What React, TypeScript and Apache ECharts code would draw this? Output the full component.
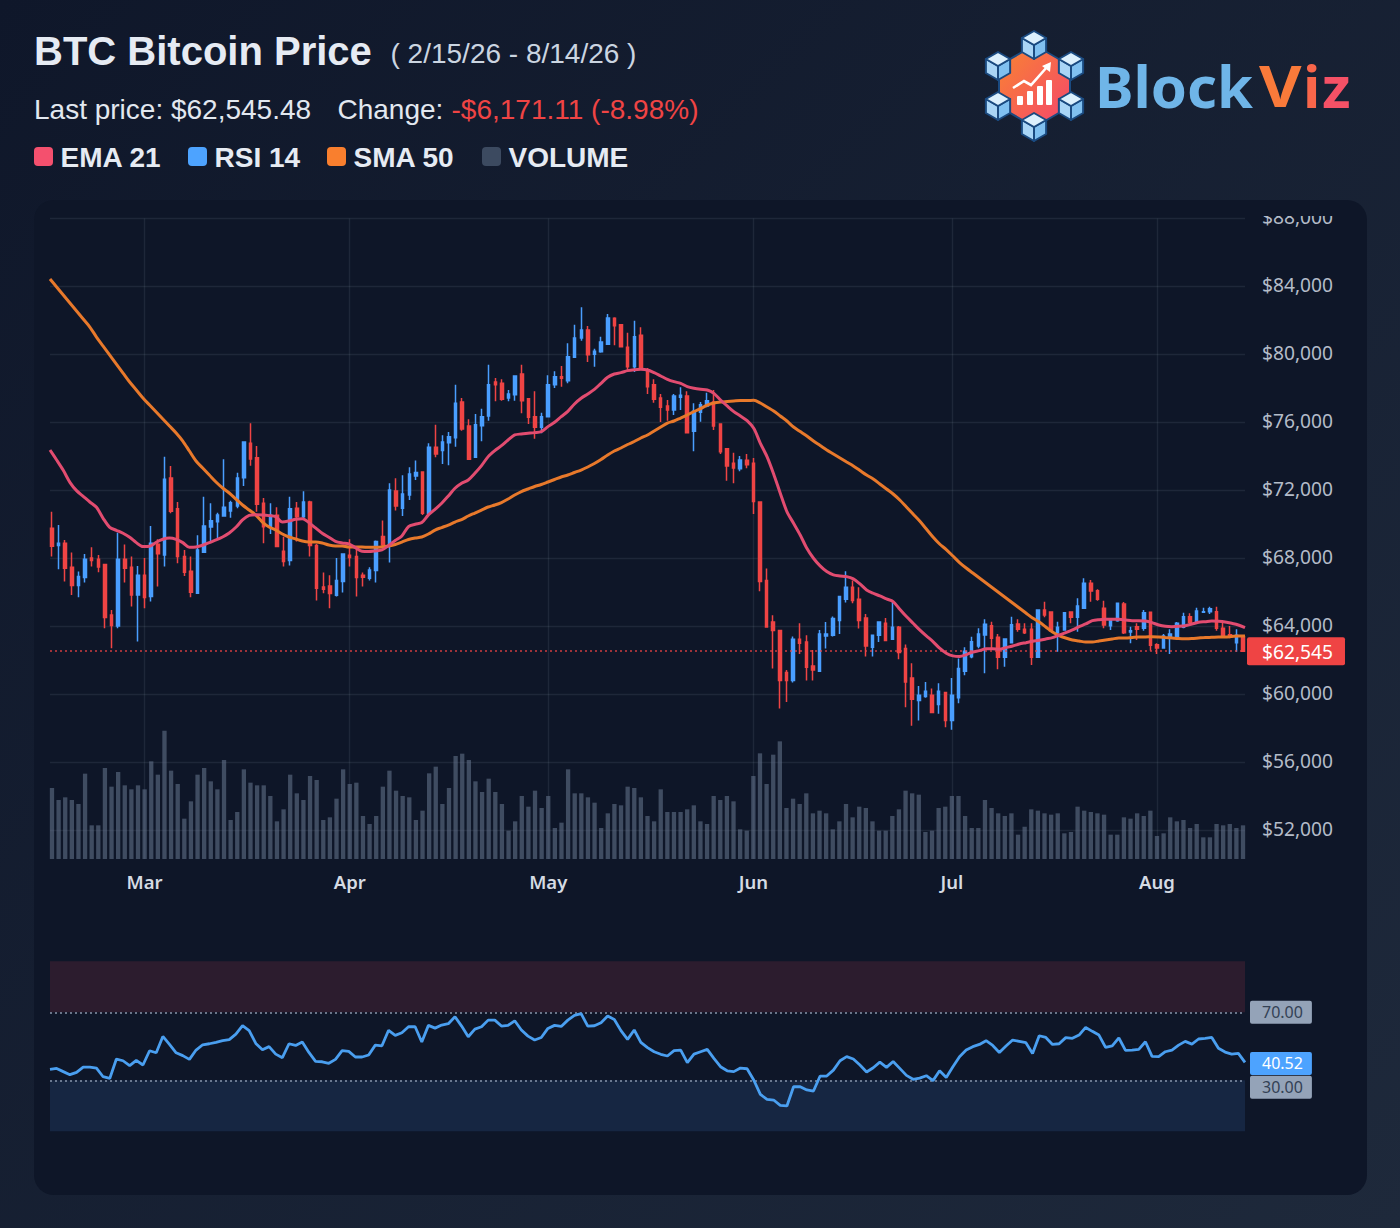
import React, { useEffect, useRef } from "react";
import * as echarts from "echarts";

const opens = [
  69777,68758,68895,67484,66406,66876,68033,67954,67641,64681,
  64034,67954,67484,65857,67013,65759,68836,68209,72737,70933,
  68111,67249,65955,68366,69855,70169,70502,70796,71090,72756,
  74775,73932,71247,69836,70541,68425,67876,70953,70463,71325,
  68758,66327,66386,65837,66641,68189,68111,67015,66839,67290,
  69289,68799,71974,70955,71739,72856,73091,70661,74542,74346,
  74816,75110,77207,75796,73954,75816,76384,78383,78305,77443,
  77639,78854,77403,76345,75718,76345,78227,78697,78462,79834,
  80971,81441,80010,80167,80598,82127,81755,80422,79285,81127,
  79089,78227,77443,76972,76736,77481,77559,75482,76599,76971,
  77206,75913,74462,73600,73286,73776,73600,71326,66701,64270,
  63761,61291,60821,63251,63094,61683,61370,63447,63486,64349,
  65603,66309,65603,64506,62781,63486,64192,63251,63957,62702,
  60978,59645,59880,59958,59410,60115,58469,59802,61370,62227,
  62854,63501,64050,63364,62188,63050,64148,63834,63834,62188,
  64971,64853,63638,63795,64853,64540,65069,66539,66108,65069,
  64050,64344,65324,63677,63991,63893,64834,62933,62737,63364,
  63364,63952,64579,64226,64834,64873,64873,63893,63521,63050,
  63403,
];
const closes = [
  68717,68895,67425,66406,66935,67954,67876,67503,64524,64054,
  67954,67425,65857,67013,65700,68895,68287,72658,70777,68111,
  67190,66014,68503,69914,70228,70561,71012,71286,72737,74853,
  73854,71188,69875,70541,68699,67817,70933,70463,71325,68758,
  66249,66190,65935,66700,68268,68052,66876,66898,67329,68995,
  68799,72033,71092,71798,72974,73052,70661,74542,74150,74855,
  75169,77129,75620,73836,75875,76345,78227,78227,77364,77678,
  78736,77286,76306,75718,76345,78227,78697,78599,79873,80971,
  81441,79991,80187,80735,82147,81696,80461,79285,81049,79207,
  78109,77364,76894,76737,77559,77598,75403,76658,77050,77285,
  75795,74286,73443,73326,73796,73522,71346,66642,63976,63761,
  60821,60821,63251,63016,61605,61448,63565,63565,64466,65760,
  66309,65525,64349,62859,63486,64270,63173,63957,62467,60742,
  59723,59958,60194,58939,60194,58469,59958,61526,62546,63109,
  63560,64128,63305,62188,63266,64109,63834,63638,62188,64971,
  64677,63756,63952,64814,64540,65206,66539,66088,65598,64089,
  64344,65363,63638,63756,63834,64814,62893,62737,63442,63560,
  64187,64579,64246,64912,64873,65049,63893,63481,63403,63481,
  62545.48,
];
const lows = [
  68111,67366,66641,65857,65720,66582,67523,67190,63897,62721,
  63897,66582,65171,63113,65073,65465,66347,67523,70659,67719,
  66974,65720,65955,68346,68993,69189,70463,70404,70953,72266,
  73462,70757,68895,69444,68699,67523,67582,68993,70345,68111,
  65524,65955,65073,65759,65994,67523,65759,66349,66702,66584,
  68701,67760,70818,70504,71445,72621,70563,70563,73954,73562,
  73484,74581,75522,73797,73954,74895,76110,77247,77286,77247,
  77286,76541,75914,75051,75365,76345,78031,78109,78305,79834,
  80814,79559,79285,80108,80559,80539,80422,79050,78971,79128,
  77678,77168,76031,76110,76442,76736,75364,74306,76050,76893,
  75560,74149,72581,72424,73130,73306,70621,66074,63976,61526,
  59174,59566,60703,62389,60821,60821,61370,62702,63408,63565,
  65407,65368,63878,62232,62232,63094,63173,63251,62075,59253,
  58155,58469,59802,58939,58861,58077,57920,59488,61134,62129,
  62717,61247,62717,61482,61639,63011,63697,63560,61737,62188,
  64540,63697,62521,63756,64187,63697,65069,65461,65520,63893,
  63795,64285,63560,63011,63207,63756,62580,62384,62697,62384,
  63364,63893,64187,64187,64814,64736,63756,63364,63305,62521,
  62521,
];
const highs = [
  70757,69973,69091,68346,67229,68268,68660,68209,67641,64975,
  69522,68817,68111,67562,68033,69914,69130,73991,73442,71325,
  68503,68111,69365,71639,71247,70698,73834,71404,73050,74853,
  75951,74618,71561,71247,71012,69287,71639,71325,71953,71404,
  68856,67170,67013,68033,68268,69130,68699,67172,67486,69054,
  70230,72425,72719,72895,73366,73758,73091,74777,75875,75247,
  75444,78227,77443,76188,76502,76815,79403,78619,78540,77913,
  78775,79403,77443,77835,76580,78775,79011,79324,80657,81755,
  82774,81676,80343,81049,82382,82186,81794,81284,81990,81598,
  79207,78540,77678,77325,77677,78069,77834,77128,77206,77755,
  77912,75913,74462,74227,74031,74149,73914,71326,67406,64662,
  63761,61448,63408,64192,63486,62624,63800,64270,64584,65760,
  67250,66701,66309,64741,63486,64270,64506,65446,64035,62938,
  61840,60507,60742,60350,60664,60115,60978,62114,62781,63403,
  63893,64422,64285,63560,63305,64579,64422,64187,64187,64971,
  65461,64873,64285,64814,64873,65657,66833,66735,66186,65520,
  64344,65363,65441,63991,64187,64971,64873,63011,63560,63834,
  64265,64814,64775,65108,65108,65167,65167,64285,64030,63834,
  63501,
];
const volumes = [
  21.3,17.7,18.5,17.7,16.5,25.6,10.1,10.1,27.3,21.7,
  26.1,22.1,20.9,22.1,20.9,29.3,25.3,38.5,26.5,22.5,
  12.1,17.3,25.3,27.3,23.3,20.9,29.7,11.7,14.1,26.9,
  22.9,22.1,22.1,18.9,11.3,14.9,25.3,19.7,17.7,24.9,
  23.7,11.7,12.5,18.1,26.9,22.5,22.9,12.9,10.5,12.9,
  21.7,26.5,20.5,18.9,18.5,11.7,14.5,25.7,27.7,16.5,
  21.3,30.9,31.6,29.7,23.3,20.1,24.1,20.1,16.5,8.5,
  11.3,18.9,15.7,20.5,15.3,18.9,9.3,10.9,26.9,19.7,
  19.7,18.5,16.9,9.3,13.7,16.5,16.1,21.7,21.3,18.5,
  12.9,11.3,20.9,14.1,14.1,14.1,14.9,16.1,11.3,10.5,
  18.9,17.7,18.9,17.3,8.9,8.5,24.9,31.7,22.5,31.3,
  35.3,15.3,18.1,16.5,19.7,13.7,14.5,13.7,8.9,11.3,
  16.5,12.5,15.7,15.3,11.3,8.5,8.5,12.9,14.9,20.5,
  19.7,19.3,8.1,8.5,15.3,15.7,18.9,18.9,12.9,9.3,
  9.3,17.7,15.3,13.7,12.9,13.7,7.3,9.7,14.9,14.5,
  13.7,13.3,13.7,7.7,8.1,15.7,14.5,14.1,13.7,13.3,
  7.3,7.3,12.5,12.1,13.7,12.9,14.5,6.9,7.7,12.5,
  11.3,11.7,9.3,10.5,6.5,6.5,10.5,10.1,10.5,9.3,
  10.1,
];
const ema21 = [
  74383,73795,73187,72482,71992,71659,71325,71012,70365,69836,
  69659,69483,69248,68934,68699,68719,68954,69130,69209,69130,
  68934,68660,68679,68777,68934,69091,69267,69503,69836,70267,
  70541,70581,70561,70522,70463,70149,70208,70306,70345,70110,
  69797,69483,69248,69013,68915,68856,68640,68427,68407,68446,
  68505,68760,69054,69328,69877,70014,70112,70563,70896,71249,
  71680,72131,72425,72621,73013,73464,73993,74346,74640,74973,
  75267,75326,75365,75404,75463,75757,76012,76345,76659,77090,
  77423,77678,77952,78305,78658,78854,78933,79050,79109,79128,
  79089,78933,78736,78540,78402,78304,78108,78010,77951,77912,
  77716,77324,76971,76638,76383,76109,75658,74776,73992,72973,
  71836,70758,70072,69386,68602,68014,67563,67230,67034,66975,
  66936,66799,66505,66152,65956,65799,65623,65466,65015,64584,
  64192,63800,63447,63114,62722,62428,62271,62232,62340,62501,
  62580,62697,62697,62658,62756,62854,62972,63050,63129,63187,
  63266,63344,63501,63638,63795,63991,64148,64344,64403,64422,
  64422,64422,64383,64344,64344,64324,64226,64089,64010,63991,
  64010,64050,64148,64246,64285,64324,64305,64265,64187,64089,
  63932,
];
const sma50 = [
  84439,83969,83498,83028,82557,82086,81616,81028,80498,79969,
  79440,78910,78381,77910,77440,77028,76616,76204,75793,75381,
  74910,74322,73734,73322,72910,72499,72146,71852,71499,71146,
  70852,70558,70146,69852,69675,69440,69264,69146,69028,68969,
  68969,68911,68793,68734,68734,68675,68675,68675,68658,68658,
  68675,68734,68823,68969,69117,69205,69264,69440,69675,69822,
  69969,70146,70293,70499,70675,70852,71028,71146,71293,71499,
  71734,71940,72087,72234,72352,72499,72646,72793,72910,73058,
  73205,73381,73587,73822,74087,74322,74499,74705,74881,75087,
  75263,75499,75734,75969,76087,76263,76440,76646,76822,77028,
  77146,77204,77234,77264,77293,77293,77305,77146,76910,76675,
  76381,76087,75734,75469,75204,74910,74646,74381,74146,73911,
  73675,73440,73175,72910,72675,72381,72087,71793,71440,71028,
  70616,70205,69734,69264,68852,68528,68146,67764,67440,67146,
  66852,66558,66264,65970,65676,65382,65087,64793,64499,64264,
  63970,63676,63470,63323,63205,63146,63088,63088,63146,63205,
  63264,63323,63323,63352,63382,63382,63400,63382,63352,63323,
  63293,63282,63293,63323,63352,63364,63382,63382,63411,63440,
  63440,
];
const rsi14 = [
  36.4,37.0,35.1,33.3,34.7,37.8,37.8,37.2,32.1,31.1,
  42.5,41.5,38.6,41.7,39.0,47.4,46.2,55.8,51.1,46.2,
  44.5,42.3,47.8,50.9,51.5,52.3,53.3,53.9,57.2,62.1,
  59.2,51.7,48.0,49.8,45.4,43.3,51.5,50.5,52.5,46.4,
  41.1,40.9,40.0,42.3,47.4,47.0,43.7,43.7,44.9,50.7,
  50.3,59.4,56.4,58.0,61.5,61.5,52.5,62.3,60.7,62.5,
  63.3,67.4,61.9,55.6,60.1,61.5,65.4,65.4,61.9,62.3,
  65.0,59.6,56.0,53.7,55.2,60.5,62.3,61.7,65.4,68.2,
  69.2,61.9,62.1,63.9,67.8,65.8,59.2,54.1,59.6,52.3,
  49.2,46.8,45.3,44.3,47.4,47.8,40.4,45.4,46.8,48.2,
  42.9,38.0,35.6,35.1,37.2,36.8,30.2,21.7,18.8,18.4,
  15.3,14.9,26.2,26.2,24.3,23.7,32.5,32.5,36.0,41.5,
  43.9,42.5,39.0,34.9,37.4,40.7,37.6,41.1,37.0,32.9,
  30.6,31.3,32.7,29.8,35.6,31.7,38.0,43.9,47.8,49.8,
  51.1,53.3,50.5,46.4,50.2,53.7,52.9,52.1,45.8,56.2,
  55.2,51.1,51.5,55.1,54.7,56.6,61.1,58.8,56.6,49.4,
  50.2,54.9,47.6,47.8,48.2,52.7,44.1,43.9,46.8,47.8,
  50.7,52.9,51.3,54.3,54.7,55.2,48.8,46.6,45.4,45.8,
  40.52,
];
const monthNames = ["Mar", "Apr", "May", "Jun", "Jul", "Aug"];
const monthIndexes = [14, 45, 75, 106, 136, 167];
const priceTicks = [52000, 56000, 60000, 64000, 68000, 72000, 76000, 80000, 84000, 88000];
const LAST_PRICE = 62545.48;
const LAST_RSI = 40.52;

const SANS = '"Liberation Sans"';
const TICK_FONT = "Noto Sans";
const UP = "#4a9eff";
const DOWN = "#ef4444";
const CARD = "#0e1628";

const money = (v: number) => "$" + Math.round(v).toLocaleString("en-US");

function txt(text: string, x: number, y: number, font: string, fill: any, scaleX = 1) {
  return {
    type: "text",
    x,
    y,
    scaleX,
    silent: true,
    style: { text, font, fill, textAlign: "left", textVerticalAlign: "middle" },
  };
}

function swatch(x: number, fill: string) {
  return { type: "rect", x, y: 147, silent: true, shape: { width: 19, height: 19, r: 4 }, style: { fill } };
}

function cube(cx: number, cy: number) {
  const r = 14;
  const w = r * 0.866;
  const dark = "#1a4a80";
  const face = (pts: number[][], fill: string) => ({
    type: "polygon",
    silent: true,
    shape: { points: pts },
    style: { fill, stroke: dark, lineWidth: 2, lineJoin: "round" },
  });
  return {
    type: "group",
    x: cx,
    y: cy,
    silent: true,
    children: [
      face([[0, 0], [-w, -r / 2], [-w, r / 2], [0, r]], "#a9d5f6"),
      face([[0, 0], [w, -r / 2], [w, r / 2], [0, r]], "#80c0f0"),
      face([[0, 0], [-w, -r / 2], [0, -r], [w, -r / 2]], "#dcf0fd"),
    ],
  };
}

function logo() {
  const cx = 1034.5;
  const cy = 86;
  const R = 41;
  const W = R * 0.866;
  const grad = new echarts.graphic.LinearGradient(0, 0, 1, 1, [
    { offset: 0, color: "#f98530" },
    { offset: 1, color: "#f4456e" },
  ]);
  const white = "#ffffff";
  const bars = [
    [1017, 96],
    [1027, 91],
    [1037, 86],
    [1046, 80],
  ].map(([x, y]) => ({
    type: "rect",
    silent: true,
    x,
    y,
    shape: { width: 6, height: 105 - y, r: 1 },
    style: { fill: white },
  }));
  const font = 'bold 58px "Noto Sans"';
  return [
    {
      type: "polygon",
      silent: true,
      shape: {
        points: [
          [cx, cy - R],
          [cx + W, cy - R / 2],
          [cx + W, cy + R / 2],
          [cx, cy + R],
          [cx - W, cy + R / 2],
          [cx - W, cy - R / 2],
        ],
      },
      style: { fill: grad, stroke: "#1a4a80", lineWidth: 2 },
    },
    ...bars,
    {
      type: "polyline",
      silent: true,
      shape: { points: [[1013, 88], [1024, 81], [1031, 85], [1047, 67]] },
      style: { stroke: white, lineWidth: 2.6, fill: "none" },
    },
    {
      type: "polygon",
      silent: true,
      shape: { points: [[1051, 62], [1050, 72], [1042, 66]] },
      style: { fill: white },
    },
    cube(1034, 45),
    cube(1071, 66),
    cube(1071, 106),
    cube(1034, 127),
    cube(998, 106),
    cube(998, 66),
    txt("Block", 1095, 85, font, "#6fb5e8"),
    txt("V", 1259, 85, font, "#f97a3a", 1.13),
    txt("i", 1303, 85, font, "#f9664a"),
    txt("z", 1322, 85, font, "#f55166"),
  ];
}

function tagLabel(text: string, bg: string, color: string, offsetY: number) {
  return {
    show: true,
    position: "end",
    formatter: text,
    distance: 5,
    offset: [0, offsetY],
    color,
    fontFamily: TICK_FONT,
    fontSize: 16,
    lineHeight: 16,
    backgroundColor: bg,
    borderRadius: 2,
    padding: [4, 9, 3, 12],
  };
}

function buildOption() {
  const xs = opens.map((_, i) => i);
  const gridLine = { color: "rgba(148,163,184,0.12)", width: 1.4 };
  const barAxis = { type: "value", min: -0.3, max: 180.3 };
  const lineAxis = { type: "value", min: 0, max: 180 };
  return {
    animation: false,
    backgroundColor: "transparent",
    grid: [
      { left: 50, top: 218.5, width: 1195, height: 640.5 },
      { left: 50, top: 961.3, width: 1195, height: 170 },
    ],
    xAxis: [
      {
        ...barAxis,
        gridIndex: 0,
        axisLine: { show: false },
        axisTick: { show: false, customValues: monthIndexes },
        splitLine: { show: true, lineStyle: gridLine },
        axisLabel: {
          customValues: monthIndexes,
          formatter: (v: number) => monthNames[monthIndexes.indexOf(v)] ?? "",
          color: "#d5dbe3",
          fontFamily: TICK_FONT,
          fontSize: 18.5,
          fontWeight: 600,
          margin: 12.5,
        },
      },
      { ...lineAxis, gridIndex: 1, show: false },
      { ...lineAxis, gridIndex: 0, show: false },
    ],
    yAxis: [
      {
        type: "value",
        gridIndex: 0,
        position: "right",
        min: 50324,
        max: 88000,
        axisLine: { show: false },
        axisTick: { show: false, customValues: priceTicks },
        splitLine: { show: true, lineStyle: gridLine },
        axisLabel: {
          customValues: priceTicks,
          formatter: money,
          color: "#b4bcc8",
          fontFamily: TICK_FONT,
          fontSize: 19.2,
          margin: 17,
          verticalAlign: "bottom",
          lineHeight: 4,
        },
      },
      { type: "value", gridIndex: 0, min: 0, max: 192.15, show: false },
      { type: "value", gridIndex: 1, min: 0, max: 100, show: false },
    ],
    series: [
      {
        type: "bar",
        name: "VOLUME",
        xAxisIndex: 0,
        yAxisIndex: 1,
        barWidth: 4.3,
        itemStyle: { color: "rgba(100,116,139,0.58)" },
        data: volumes.map((v, i) => [xs[i], v]),
        z: 1,
      },
      {
        type: "candlestick",
        name: "BTC",
        xAxisIndex: 0,
        yAxisIndex: 0,
        barWidth: 3,
        itemStyle: { color: UP, color0: DOWN, borderColor: UP, borderColor0: DOWN, borderWidth: 1.5 },
        data: xs.map((i) => [i, opens[i], closes[i], lows[i], highs[i]]),
        z: 3,
        markLine: {
          silent: true,
          symbol: "none",
          animation: false,
          lineStyle: { color: "rgba(239,68,68,0.85)", type: [2, 3], width: 1.5 },
          label: {
            show: true,
            position: "end",
            distance: 2,
            formatter: money(LAST_PRICE),
            color: "#ffffff",
            fontFamily: TICK_FONT,
            fontSize: 19.2,
            lineHeight: 20,
            backgroundColor: DOWN,
            borderRadius: 2,
            padding: [4, 12, 4, 15],
          },
          data: [{ yAxis: LAST_PRICE }],
        },
      },
      {
        type: "line",
        name: "SMA 50",
        xAxisIndex: 2,
        yAxisIndex: 0,
        showSymbol: false,
        smooth: 0.3,
        lineStyle: { color: "#e8792b", width: 3 },
        data: sma50.map((v, i) => [xs[i], v]),
        z: 4,
      },
      {
        type: "line",
        name: "EMA 21",
        xAxisIndex: 2,
        yAxisIndex: 0,
        showSymbol: false,
        smooth: 0.3,
        lineStyle: { color: "#e24c70", width: 3 },
        data: ema21.map((v, i) => [xs[i], v]),
        z: 5,
      },
      {
        type: "line",
        name: "RSI 14",
        xAxisIndex: 1,
        yAxisIndex: 2,
        showSymbol: false,
        lineStyle: { color: "#4a9ff0", width: 2.8 },
        data: rsi14.map((v, i) => [xs[i], v]),
        z: 5,
        markArea: {
          silent: true,
          data: [
            [{ yAxis: 70, itemStyle: { color: "#2c1c2e" } }, { yAxis: 100 }],
            [{ yAxis: 0, itemStyle: { color: "#162642" } }, { yAxis: 30 }],
          ],
        },
        markLine: {
          silent: true,
          symbol: "none",
          animation: false,
          lineStyle: { color: "rgba(148,163,184,0.9)", type: [2, 3], width: 1.6 },
          data: [
            { yAxis: 70, label: tagLabel("70.00", "#94a3b8", "#334155", 0) },
            { yAxis: 30, label: tagLabel("30.00", "#94a3b8", "#334155", 7) },
            {
              yAxis: LAST_RSI,
              lineStyle: { color: "transparent" },
              label: tagLabel(LAST_RSI.toFixed(2), "#4da3ff", "#ffffff", 1),
            },
          ],
        },
      },
    ],
    graphic: { elements: [
      // The reference cuts the top tick label off at the plot's upper edge.
      { type: "rect", x: 1250, y: 204, z: 100, silent: true, shape: { width: 100, height: 12 }, style: { fill: CARD } },
      txt("BTC Bitcoin Price", 34, 51, `bold 40px ${SANS}`, "#e6ebf3"),
      txt("( 2/15/26 - 8/14/26 )", 390.5, 53.5, `28px ${SANS}`, "#cbd5e1"),
      txt("Last price: $62,545.48", 34, 109.5, `28px ${SANS}`, "#e2e8f0"),
      txt("Change:", 337.5, 109.5, `28px ${SANS}`, "#e2e8f0"),
      txt("-$6,171.11 (-8.98%)", 451.5, 109.5, `28px ${SANS}`, DOWN),
      swatch(34, "#f4506e"),
      txt("EMA 21", 60.5, 157.5, `bold 28px ${SANS}`, "#e6ebf3"),
      swatch(188, "#4da3ff"),
      txt("RSI 14", 214.5, 157.5, `bold 28px ${SANS}`, "#e6ebf3"),
      swatch(327, "#f97f2e"),
      txt("SMA 50", 353.5, 157.5, `bold 28px ${SANS}`, "#e6ebf3"),
      swatch(482, "#3c4a60"),
      txt("VOLUME", 508.5, 157.5, `bold 28px ${SANS}`, "#e6ebf3"),
      ...logo(),
    ] },
  };
}

export default function App() {
  const ref = useRef<HTMLDivElement>(null);
  useEffect(() => {
    const chart = echarts.init(ref.current!, undefined, { renderer: "svg" });
    chart.setOption(buildOption() as any);
    return () => chart.dispose();
  }, []);
  return (
    <div
      style={{
        position: "absolute",
        left: 0,
        top: 0,
        width: 1400,
        height: 1228,
        background: "linear-gradient(135deg, #0f172a 0%, #1e293b 100%)",
        overflow: "hidden",
      }}
    >
      <div
        style={{
          position: "absolute",
          left: 34,
          top: 200,
          width: 1333,
          height: 995,
          borderRadius: 20,
          background: CARD,
        }}
      />
      <div ref={ref} style={{ position: "absolute", left: 0, top: 0, width: 1400, height: 1228 }} />
    </div>
  );
}
